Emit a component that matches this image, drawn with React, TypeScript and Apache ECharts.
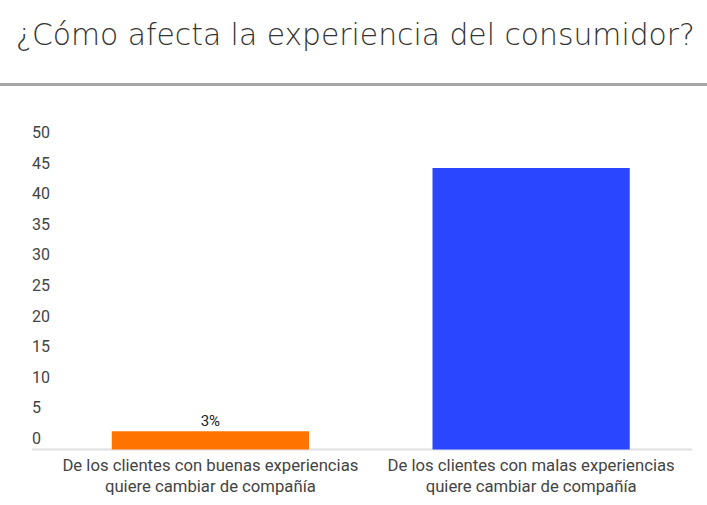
import React, { useEffect, useRef } from "react";
import * as echarts from "echarts";

const TITLE = "¿Cómo afecta la experiencia del consumidor?";
const categories = [
  "De los clientes con buenas experiencias\nquiere cambiar de compañía",
  "De los clientes con malas experiencias\nquiere cambiar de compañía",
];
const values = [3, 46];
const barColors = ["#ff7300", "#2a47ff"];
const valueLabels = ["3%", ""];

export default function App() {
  const ref = useRef<HTMLDivElement>(null);
  useEffect(() => {
    if (!ref.current) return;
    const chart = echarts.init(ref.current, undefined, { renderer: "svg" });
    chart.setOption({
      animation: false,
      backgroundColor: "#ffffff",
      title: {
        text: TITLE,
        left: 11,
        top: 14,
        textStyle: {
          fontFamily: "DejaVu Sans",
          fontWeight: 200,
          fontSize: 29.8,
          color: "#333333",
        },
      },
      graphic: [
        {
          type: "rect",
          shape: { x: 0, y: 83, width: 707, height: 3 },
          style: { fill: "#a6a6a6" },
        },
        {
          type: "line",
          shape: { x1: 32, y1: 449.5, x2: 692, y2: 449.5 },
          style: { stroke: "#e0e0e0", lineWidth: 2 },
          z: -1,
        },
      ],
      grid: { left: 50, right: 15.5, top: 143.5, bottom: 55.5, containLabel: false },
      xAxis: {
        type: "category",
        data: categories,
        axisLine: { show: false },
        axisTick: { show: false },
        axisLabel: {
          fontFamily: "Roboto",
          fontSize: 16.7,
          color: "#444444",
          lineHeight: 21,
          margin: 5,
          interval: 0,
        },
      },
      yAxis: {
        type: "value",
        min: 0,
        max: 50,
        interval: 5,
        splitLine: { show: false },
        axisLine: { show: false },
        axisTick: { show: false },
        axisLabel: {
          fontFamily: "Roboto",
          fontSize: 16,
          color: "#444444",
          align: "left",
          margin: 18,
          verticalAlign: "bottom",
          lineHeight: 16,
          padding: [0, 0, 3, 0],
        },
      },
      series: [
        {
          type: "bar",
          barCategoryGap: "38.5%",
          data: values.map((v, i) => ({
            value: v,
            itemStyle: { color: barColors[i] },
            label: {
              show: valueLabels[i] !== "",
              position: "top",
              formatter: valueLabels[i],
              fontFamily: "Roboto",
              fontSize: 15,
              color: "#222222",
              distance: 3,
            },
          })),
        },
      ],
    });
    return () => chart.dispose();
  }, []);
  return (
    <div
      ref={ref}
      style={{ position: "fixed", left: 0, top: 0, width: 707, height: 505 }}
    />
  );
}
